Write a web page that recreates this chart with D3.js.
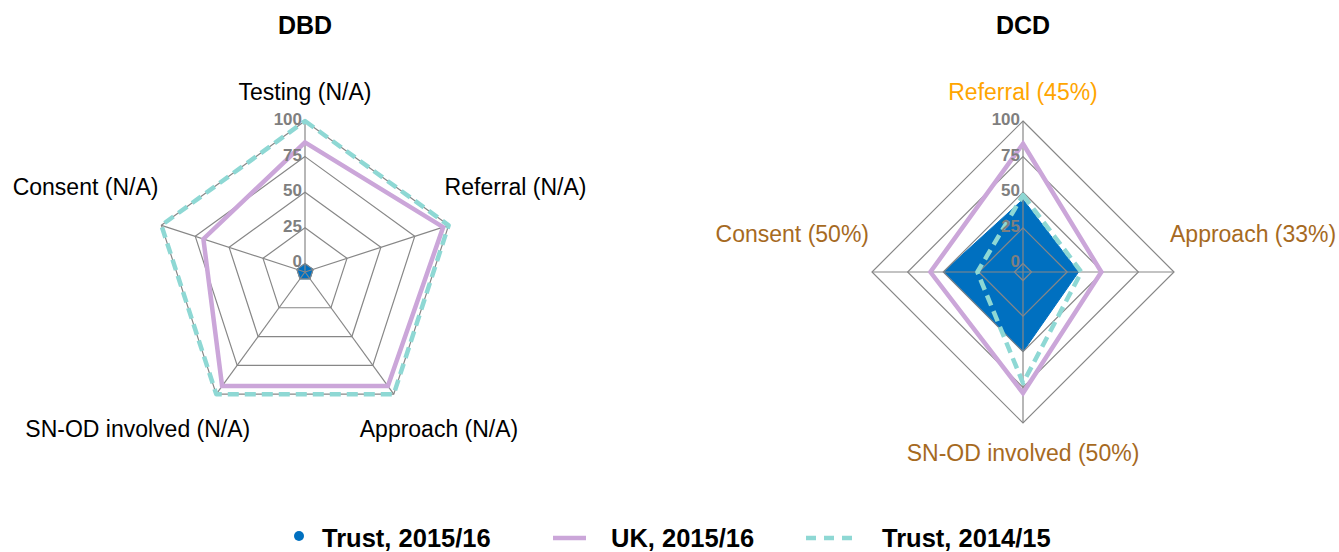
<!DOCTYPE html>
<html>
<head>
<meta charset="utf-8">
<script src="https://cdn.jsdelivr.net/npm/d3@7"></script>
<style>
  html, body { margin: 0; padding: 0; background: #ffffff; }
  svg { display: block; font-family: "Liberation Sans", Arial, sans-serif; }
</style>
</head>
<body>
<svg id="chart" width="1339" height="552"></svg>
<script>
// ---------- DATA ----------
const tickValues = [0, 25, 50, 75, 100];

const dbdTitle = "DBD";
const dbdCategories = ["Testing (N/A)", "Referral (N/A)", "Approach (N/A)", "SN-OD involved (N/A)", "Consent (N/A)"];
const dbdTrust1516 = [0, 0, 0, 0, 0];
const dbdUK1516 = [85, 96, 93, 93, 69];
const dbdTrust1415 = [100, 100, 100, 100, 100];

const dcdTitle = "DCD";
const dcdCategories = ["Referral (45%)", "Approach (33%)", "SN-OD involved (50%)", "Consent (50%)"];
const dcdTrust1516 = [45, 33, 50, 50];
const dcdUK1516 = [84, 49, 79, 59];
const dcdTrust1415 = [48, 35, 72, 26];

const seriesNames = ["Trust, 2015/16", "UK, 2015/16", "Trust, 2014/15"];

// ---------- STYLE / LAYOUT ----------
const colors = { trust1516: "#0070C0", uk: "#CBA6D9", trust1415: "#8ED8D4", grid: "#878787", tick: "#7F7F7F" };
const dbdLabelColors = dbdCategories.map(() => "#000000");
const dcdLabelColors = ["#FFA500", "#A66A1F", "#A66A1F", "#A66A1F"];

const svg = d3.select("#chart");
const R = 151;
const cy = 272;

function drawRadar(cx, title, cats, labelColors, trust1516, uk, trust1415) {
  const g = svg.append("g").attr("transform", `translate(${cx},${cy})`);
  const n = cats.length;
  const angle = d3.scaleLinear().domain([0, n]).range([0, 2 * Math.PI]);
  const r = d3.scaleLinear().domain([-6, 100]).range([0, R]);
  const line = d3.lineRadial()
    .angle((d, i) => angle(i))
    .radius(d => r(d))
    .curve(d3.curveLinearClosed);

  // Trust 2015/16 filled area
  g.append("path").attr("d", line(trust1516))
    .attr("fill", colors.trust1516).attr("stroke", colors.trust1516).attr("stroke-width", 1);

  // grid rings
  tickValues.forEach(t => {
    g.append("path").attr("d", line(cats.map(() => t)))
      .attr("fill", "none").attr("stroke", colors.grid).attr("stroke-width", 1.2);
  });
  // spokes
  cats.forEach((c, i) => {
    const a = angle(i);
    g.append("line")
      .attr("x1", 0).attr("y1", 0)
      .attr("x2", r(100) * Math.sin(a)).attr("y2", -r(100) * Math.cos(a))
      .attr("stroke", colors.grid).attr("stroke-width", 1.2);
  });

  // UK line
  g.append("path").attr("d", line(uk))
    .attr("fill", "none").attr("stroke", colors.uk).attr("stroke-width", 4.5)
    .attr("stroke-linejoin", "miter");
  // Trust 2014/15 dashed
  g.append("path").attr("d", line(trust1415))
    .attr("fill", "none").attr("stroke", colors.trust1415).attr("stroke-width", 4.5)
    .attr("stroke-dasharray", "11,6").attr("stroke-linejoin", "round");

  // tick labels
  tickValues.forEach(t => {
    g.append("text").attr("x", -3).attr("y", -r(t) + 4)
      .attr("text-anchor", "end").attr("font-size", 17).attr("font-weight", "bold")
      .attr("fill", colors.tick).text(t);
  });

  // category labels
  cats.forEach((c, i) => {
    const a = angle(i);
    const s = Math.sin(a), co = Math.cos(a);
    const vx = r(100) * s, vy = -r(100) * co;
    let x, y, anchor;
    if (Math.abs(s) < 0.01) {
      anchor = "middle"; x = vx;
      y = co > 0 ? vy - 21 : vy + 38;
    } else if (co > -0.5) {
      anchor = s > 0 ? "start" : "end";
      x = s > 0 ? vx - 4 : vx - 3;
      y = vy - 30;
    } else {
      anchor = s > 0 ? "start" : "end";
      x = vx - 34 * Math.sign(s);
      y = vy + 43;
    }
    g.append("text").attr("x", x).attr("y", y).attr("text-anchor", anchor)
      .attr("font-size", 23).attr("fill", labelColors[i]).text(c);
  });

  // title
  svg.append("text").attr("x", cx).attr("y", 34).attr("text-anchor", "middle")
    .attr("font-size", 25).attr("font-weight", "bold").attr("fill", "#000").text(title);
}

drawRadar(305, dbdTitle, dbdCategories, dbdLabelColors, dbdTrust1516, dbdUK1516, dbdTrust1415);
drawRadar(1023, dcdTitle, dcdCategories, dcdLabelColors, dcdTrust1516, dcdUK1516, dcdTrust1415);

// ---------- LEGEND ----------
const leg = svg.append("g");
const ly = 538;
leg.append("circle").attr("cx", 299).attr("cy", ly - 2).attr("r", 5).attr("fill", colors.trust1516);
leg.append("text").attr("x", 322).attr("y", 547).attr("font-size", 25.5).attr("font-weight", "bold").text(seriesNames[0]);
leg.append("line").attr("x1", 553).attr("x2", 586).attr("y1", ly).attr("y2", ly)
  .attr("stroke", colors.uk).attr("stroke-width", 4.5);
leg.append("text").attr("x", 611).attr("y", 547).attr("font-size", 25.5).attr("font-weight", "bold").text(seriesNames[1]);
leg.append("line").attr("x1", 806).attr("x2", 854).attr("y1", ly).attr("y2", ly)
  .attr("stroke", colors.trust1415).attr("stroke-width", 4.5).attr("stroke-dasharray", "10,8");
leg.append("text").attr("x", 882).attr("y", 547).attr("font-size", 25.5).attr("font-weight", "bold").text(seriesNames[2]);
</script>
</body>
</html>
